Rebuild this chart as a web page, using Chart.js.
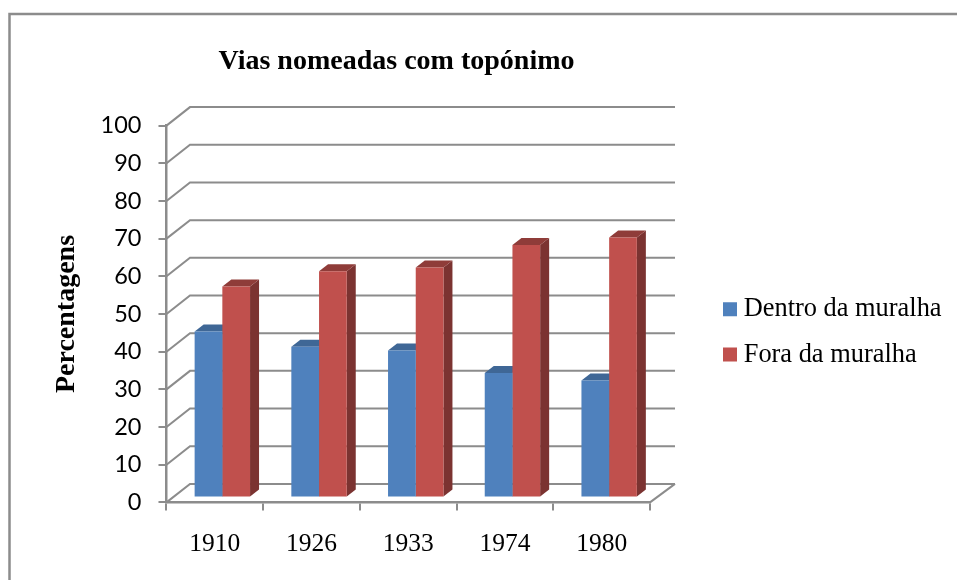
<!DOCTYPE html>
<html><head><meta charset="utf-8">
<script src="https://cdn.jsdelivr.net/npm/chart.js@4"></script>
<style>html,body{margin:0;padding:0;background:#fff}canvas{display:block}</style>
</head><body>
<canvas id="c" width="957" height="580"></canvas>
<script>
const categories = ['1910','1926','1933','1974','1980'];
const dentro = [44,40,39,33,31];
const fora = [56,60,61,67,69];
const seriesNames = ['Dentro da muralha','Fora da muralha'];
const titleText = 'Vias nomeadas com topónimo';
const yTitle = 'Percentagens';
const GREY = '#8c8c8c';
const SERIF = '"Liberation Serif"';
const colors = [
  {front:'#4F81BD', top:'#3f6796', side:'#39608c'},
  {front:'#C0504D', top:'#8f3c39', side:'#7b3331'}
];
const wall = {dx:23.5, dy:-18.5}, plane = {dx:7.5, dy:-5}, depth = {dx:9, dy:-7};

const threeD = {
  id:'threeD',
  afterLayout(chart){
    const t = chart.titleBlock; t.left = 0; t.right = 793;
    const l = chart.legend;
    l.left = 710.5; l.right = 957; l.top = 277; l.bottom = 580;
  },
  beforeDraw(chart){
    const {ctx,width,height} = chart;
    ctx.save();
    ctx.fillStyle='#fff'; ctx.fillRect(0,0,width,height);
    ctx.strokeStyle=GREY; ctx.lineWidth=2.5;
    ctx.strokeRect(9.5,14,width+20,height+20);
    ctx.restore();
  },
  beforeDatasetsDraw(chart){
    const {ctx,scales:{y},chartArea:a} = chart;
    ctx.save();
    ctx.strokeStyle=GREY; ctx.lineWidth=2;
    y.ticks.forEach(t=>{
      const py = y.getPixelForValue(t.value);
      ctx.beginPath();
      ctx.moveTo(a.left,py);
      ctx.lineTo(a.left+wall.dx,py+wall.dy);
      ctx.lineTo(a.right+wall.dx+1.5,py+wall.dy);
      ctx.stroke();
    });
    const b = y.getPixelForValue(0);
    ctx.beginPath();
    ctx.moveTo(a.right,b);
    ctx.lineTo(a.right+wall.dx+1.5,b+wall.dy);
    ctx.stroke();
    ctx.translate(plane.dx,plane.dy);
    [0,1].forEach(i=>{
      const c = colors[i];
      chart.getDatasetMeta(i).data.forEach(bar=>{
        const {x,y:top,width,base} = bar.getProps(['x','y','width','base'],true);
        const r = x+width/2, l = x-width/2;
        ctx.fillStyle=c.side;
        ctx.beginPath();
        ctx.moveTo(r,top); ctx.lineTo(r+depth.dx,top+depth.dy);
        ctx.lineTo(r+depth.dx,base+depth.dy); ctx.lineTo(r,base);
        ctx.closePath(); ctx.fill();
        ctx.fillStyle=c.top;
        ctx.beginPath();
        ctx.moveTo(l,top); ctx.lineTo(l+depth.dx,top+depth.dy);
        ctx.lineTo(r+depth.dx,top+depth.dy); ctx.lineTo(r,top);
        ctx.closePath(); ctx.fill();
      });
    });
    ctx.restore();
  },
  beforeDatasetDraw(chart){
    chart.ctx.save();
    chart.ctx.translate(plane.dx,plane.dy);
  },
  afterDatasetDraw(chart){ chart.ctx.restore(); }
};

new Chart(document.getElementById('c'),{
  type:'bar',
  data:{labels:categories,datasets:[
    {label:seriesNames[0],data:dentro,backgroundColor:colors[0].front,clip:false,categoryPercentage:0.573,barPercentage:1},
    {label:seriesNames[1],data:fora,backgroundColor:colors[1].front,clip:false,categoryPercentage:0.573,barPercentage:1}
  ]},
  options:{
    responsive:false,animation:false,
    layout:{padding:{left:50,top:45,right:107,bottom:1}},
    plugins:{
      tooltip:{enabled:false},
      title:{display:true,text:titleText,color:'#000',align:'center',
        font:{family:SERIF,size:28,weight:'bold'},padding:{top:0,bottom:47}},
      legend:{position:'right',align:'start',
        labels:{font:{family:SERIF,size:26.4},color:'#000',boxWidth:1,boxHeight:1,padding:19,
          generateLabels:()=>seriesNames.map((n,i)=>({text:n,fillStyle:colors[i].front,strokeStyle:colors[i].front,lineWidth:13,datasetIndex:i}))}}
    },
    scales:{
      x:{offset:true,
        grid:{offset:true,drawOnChartArea:false,drawTicks:true,tickLength:8,color:GREY,lineWidth:2},
        border:{display:true,color:GREY,width:2.5},
        ticks:{font:{family:SERIF,size:25.5},color:'#000',padding:19,maxRotation:0}},
      y:{min:0,max:100,
        grid:{drawOnChartArea:false,drawTicks:true,tickLength:8,color:GREY,lineWidth:2},
        border:{display:true,color:GREY,width:2.5},
        ticks:{stepSize:10,font:{family:'Lato',size:23.5},color:'#000',padding:17},
        title:{display:true,text:yTitle,color:'#000',font:{family:SERIF,size:28,weight:'bold'},padding:{top:0,bottom:0}}}
    }
  },
  plugins:[threeD]
});
</script>
</body></html>
